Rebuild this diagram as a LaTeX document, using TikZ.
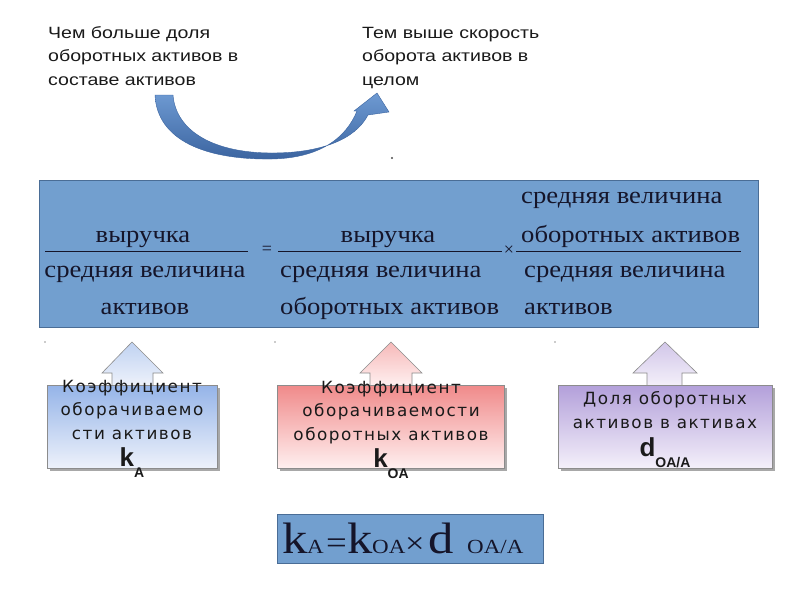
\documentclass[tikz,border=0pt]{standalone}
\usepackage{fontspec}
\setmainfont{Liberation Serif}
\newfontfamily\lsans[FakeStretch=1.2]{Liberation Sans}
\newfontfamily\ksans{Liberation Sans}
\newfontfamily\serfont[FakeStretch=1.11]{Liberation Serif}
\newfontfamily\formfont[FakeStretch=1.15]{Liberation Serif}
\newfontfamily\boxfont[LetterSpace=9]{DejaVu Sans}
\definecolor{mainblue}{HTML}{729FCF}
\definecolor{mainborder}{HTML}{4A6D96}
\definecolor{arrowL}{HTML}{6E9AD2}
\definecolor{arrowD}{HTML}{3B64A0}
\definecolor{aTop}{HTML}{95B4E8}
\definecolor{aBot}{HTML}{EEF2FB}
\definecolor{oTop}{HTML}{F08A8A}
\definecolor{oBot}{HTML}{FFF0F0}
\definecolor{dTop}{HTML}{B3A0DA}
\definecolor{dBot}{HTML}{F4F0FA}
\definecolor{txt}{HTML}{1A1A1A}
\definecolor{serifc}{HTML}{15152A}
\definecolor{shadowc}{HTML}{A8A8A8}
\definecolor{boxline}{HTML}{8C8C8C}
\tikzset{
  toptext/.style={font=\lsans\fontsize{16.3}{23.5}\selectfont, align=left, inner sep=0pt, text=txt},
  sertext/.style={font=\serfont\fontsize{24}{24}\selectfont, inner sep=0pt, text=serifc},
  boxtext/.style={font=\boxfont\fontsize{16.8}{23.5}\selectfont, align=center, inner sep=0pt, text=txt},
  ktext/.style={font=\ksans\bfseries\fontsize{26}{26}\selectfont, inner sep=0pt, text=txt},
  ftext/.style={inner sep=0pt, anchor=base west, text=serifc},
  panel/.style={draw=boxline, line width=0.8pt, rectangle, inner sep=0pt, anchor=north west},
  uparrow/.style={draw=boxline, line width=0.6pt},
  bar/.style={draw=serifc, line width=0.8pt},
}
\newcommand{\subsc}[1]{\raisebox{-11pt}{\fontsize{14}{14}\selectfont #1}}
\newcommand{\fbig}{\formfont\fontsize{44}{44}\selectfont}
\newcommand{\fsmall}{\formfont\fontsize{20}{20}\selectfont}
\begin{document}
\begin{tikzpicture}[x=1pt,y=-1pt]
\useasboundingbox[fill=white] (0,0) rectangle (800,600);

% top texts (base = last line)
\node[toptext, anchor=base west] (t1) at (48,85) {Чем больше доля\\оборотных активов в\\составе активов};
\node[toptext, anchor=base west] (t2) at (362,85) {Тем выше скорость\\оборота активов в\\целом};

% curved arrow
\shade[top color=arrowL, bottom color=arrowD, draw=arrowD, line width=0.4pt]
 (155,95) .. controls (157,140) and (205,160) .. (272,159)
 .. controls (320,158) and (346,138) .. (357,111)
 -- (354,111) -- (377,93) -- (389,112) -- (368,115)
 .. controls (355,140) and (320,153) .. (272,153)
 .. controls (215,153) and (176,132) .. (173,95) -- cycle;
\fill[black!70] (392,158) circle (1.1);

% main formula panel
\node[panel, draw=mainborder, fill=mainblue, minimum width=719, minimum height=147] (main) at (39,180) {};

% fraction 1
\node[sertext, anchor=base] (n1) at (143,242) {выручка};
\draw[bar] (45,251) -- (248,251);
\node[sertext, anchor=base] (d1a) at (145,277) {средняя величина};
\node[sertext, anchor=base] (d1b) at (145,314) {активов};
\node[sertext, anchor=center, font=\fontsize{18}{18}\selectfont] (eq) at (267,250) {=};
% fraction 2
\node[sertext, anchor=base] (n2) at (388,242) {выручка};
\draw[bar] (278,251) -- (502,251);
\node[sertext, anchor=base west] (d2a) at (280,277) {средняя величина};
\node[sertext, anchor=base west] (d2b) at (280,314) {оборотных активов};
\node[sertext, anchor=center, font=\fontsize{18}{18}\selectfont] (times) at (509,251) {×};
% fraction 3
\node[sertext, anchor=base west] (n3a) at (521,203) {средняя величина};
\node[sertext, anchor=base west] (n3b) at (521,242) {оборотных активов};
\draw[bar] (516,251) -- (741,251);
\node[sertext, anchor=base west] (d3a) at (524,277) {средняя величина};
\node[sertext, anchor=base west] (d3b) at (524,314) {активов};

% small marks
\fill[black!40] (45,342) circle (0.8);
\fill[black!40] (275,342) circle (0.8);
\fill[black!40] (555,342) circle (0.8);

% up arrows
\shade[uparrow, top color=aTop!60, bottom color=aBot] (112,386) -- (112,373) -- (102,373) -- (132,342) -- (163,373) -- (153,373) -- (153,386);
\shade[uparrow, top color=oTop!60, bottom color=oBot] (370,386) -- (370,373) -- (360,373) -- (391,342) -- (422,373) -- (412,373) -- (412,386);
\shade[uparrow, top color=dTop!60, bottom color=dBot] (647,386) -- (647,373) -- (633,373) -- (665,342) -- (697,373) -- (682,373) -- (682,386);

% shadows
\fill[shadowc] (50,388) rectangle (220,471);
\fill[shadowc] (280,388) rectangle (507,471);
\fill[shadowc] (561,388) rectangle (775,471);

% boxes
\node[panel, top color=aTop, bottom color=aBot, minimum width=170, minimum height=83] (boxA) at (47,385) {};
\node[panel, top color=oTop, bottom color=oBot, minimum width=227, minimum height=83] (boxOA) at (277,385) {};
\node[panel, top color=dTop, bottom color=dBot, minimum width=214, minimum height=83] (boxD) at (558,385) {};

% box texts (base = last line)
\node[boxtext, anchor=base] (tA) at (132,439) {Коэффициент\\оборачиваемо\\сти активов};
\node[ktext, anchor=base] (kA) at (132,466) {k\subsc{A}};
\node[boxtext, anchor=base] (tOA) at (391,440) {Коэффициент\\оборачиваемости\\оборотных активов};
\node[ktext, anchor=base] (kOA) at (391,467) {k\subsc{OA}};
\node[boxtext, anchor=base] (tD) at (665,428) {Доля оборотных\\активов в активах};
\node[ktext, anchor=base] (kD) at (665,456) {d\subsc{OA/A}};

% bottom formula
\node[panel, draw=mainborder, fill=mainblue, minimum width=266, minimum height=49] (formula) at (277,514) {};
\node[ftext, font=\fbig] (fk1) at (282,553) {k};
\node[ftext, font=\fsmall] (fA) at (307,553) {A};
\node[ftext, font=\formfont\fontsize{32}{32}\selectfont] (feq) at (326,553) {=};
\node[ftext, font=\fbig] (fk2) at (347,553) {k};
\node[ftext, font=\fsmall] (fOA) at (372,553) {OA};
\node[ftext, font=\formfont\fontsize{30}{30}\selectfont] (ftimes) at (405,553) {×};
\node[ftext, font=\fbig] (fd) at (428,553) {d};
\node[ftext, font=\fsmall] (fOAA) at (467,553) {OA/A};
\end{tikzpicture}
\end{document}
